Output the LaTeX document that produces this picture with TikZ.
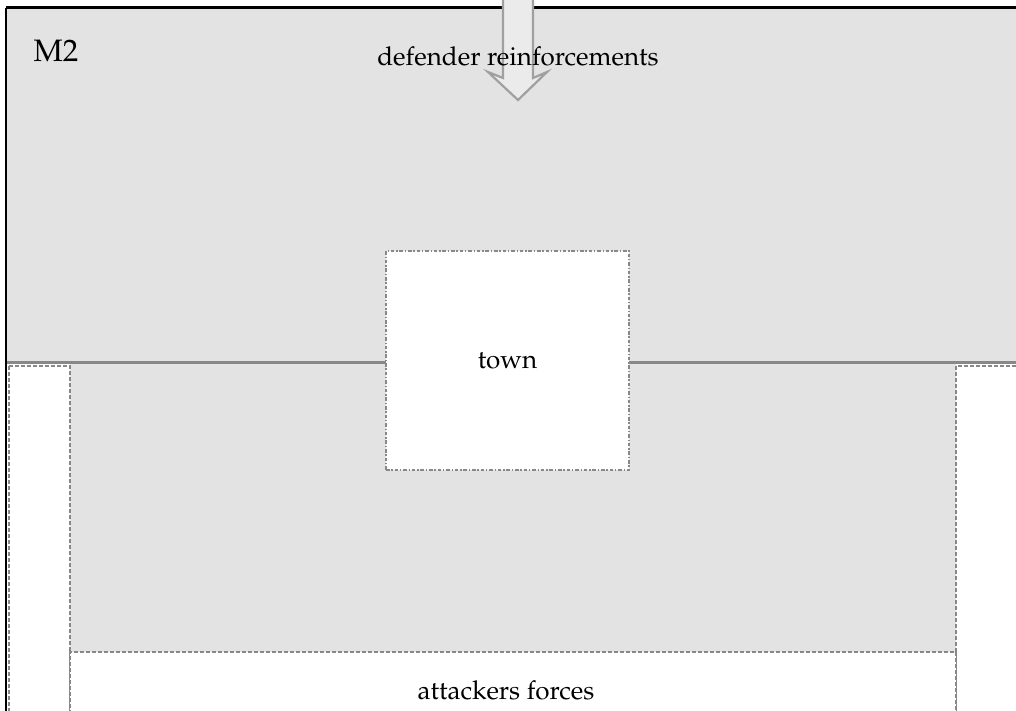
\documentclass[tikz,border=0pt]{standalone}
\usepackage[T1]{fontenc}
\usepackage{mathpazo}
\usepackage{xcolor}
\usepackage{tikz}
\usetikzlibrary{positioning}
\definecolor{zonegray}{HTML}{E3E3E3}
\definecolor{edgegray}{HTML}{888888}
\definecolor{arrowgray}{HTML}{A0A0A0}

\begin{document}
\begin{tikzpicture}[x=0.5pt, y=-0.5pt,
  zone/.style={draw=edgegray, line width=1pt, dash pattern=on 1.8pt off 1.2pt},
  townbox/.style={draw=edgegray, fill=white, line width=1pt,
                  dash pattern=on 1.8pt off 0.9pt on 0.7pt off 0.9pt,
                  minimum width=121.5pt, minimum height=109.5pt, font=\fontsize{13}{15}\selectfont},
  txt/.style={font=\fontsize{13}{15}\selectfont},
  thick
]
  \path[use as bounding box, clip] (0,0) rectangle (1016,711);

  % shaded zones
  \fill[zonegray] (6,8) rectangle (1020,362);
  \fill[zonegray] (70,362) rectangle (956,652);

  % side strips and attackers zone
  \draw[zone, fill=white] (9,366) rectangle (70,730);
  \draw[zone, fill=white] (956,366) rectangle (1030,730);
  \node[zone, fill=white, minimum width=443pt, minimum height=39pt, txt] (attackers) at (513,691) {};
  \node[txt] (attlabel) at (506,690) {attackers forces};

  % borders
  \draw[edgegray, line width=1.5pt] (5,362) -- (1020,362);
  \draw[black, line width=1.5pt] (1020,8) -- (5.5,8);
  \draw[black, line width=1.2pt] (6,8) -- (6,720);

  % reinforcements arrow
  \draw[arrowgray, fill=zonegray!70!white, line width=1.1pt, line join=miter]
    (503,-5) -- (503,78) -- (488,72) -- (518,100) -- (547,72) -- (533,78) -- (533,-5) -- cycle;

  \node[font=\fontsize{15.5}{18}\selectfont] (mtwo) at (56,51) {M2};
  \node[txt] (reinf) at (518,56) {defender reinforcements};
  \node[townbox] (town) at (507.5,360.5) {town};
\end{tikzpicture}
\end{document}
